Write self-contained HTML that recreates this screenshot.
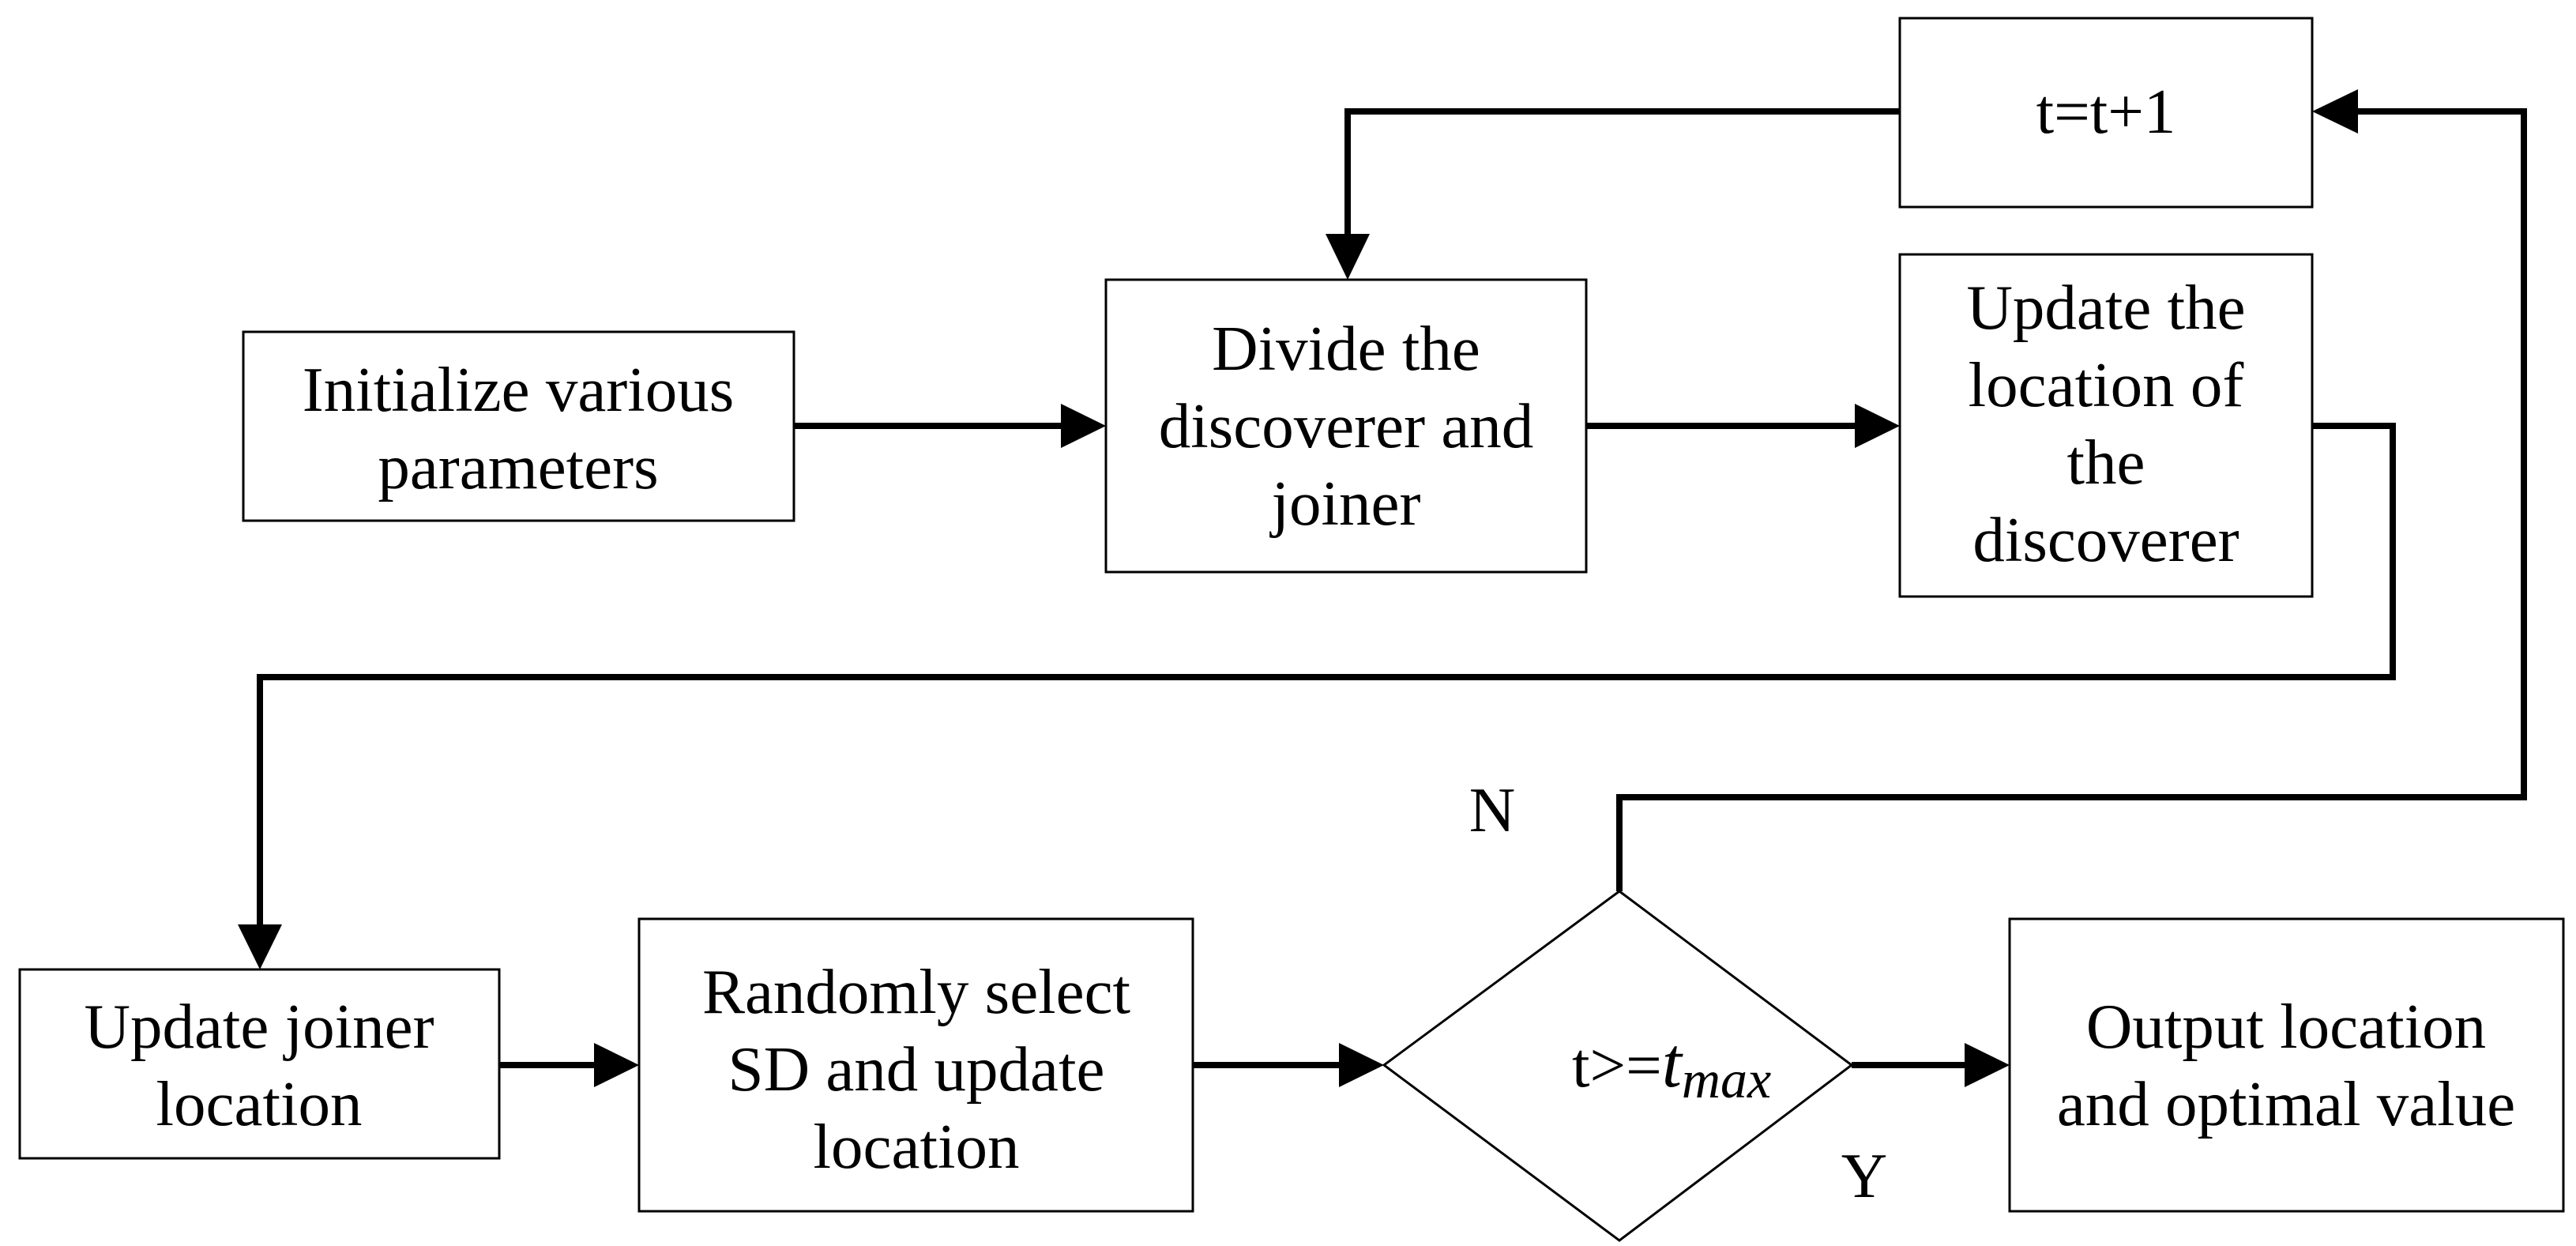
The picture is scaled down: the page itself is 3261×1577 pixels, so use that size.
<!DOCTYPE html>
<html><head><meta charset="utf-8"><style>
html,body{margin:0;padding:0;background:#fff;}
svg{display:block;}
text{font-family:"Liberation Serif",serif;font-size:81px;fill:#000;text-anchor:middle;}
</style></head><body>
<svg width="3261" height="1577" viewBox="0 0 3261 1577" xmlns="http://www.w3.org/2000/svg">
<g fill="none" stroke="#000" stroke-width="3">
<rect x="2405" y="23" width="522" height="239"/>
<rect x="1400" y="354" width="608" height="370"/>
<rect x="308" y="420" width="697" height="239"/>
<rect x="2405" y="322" width="522" height="433"/>
<rect x="25" y="1227" width="607" height="239"/>
<rect x="809" y="1163" width="701" height="370"/>
<rect x="2544" y="1163" width="701" height="370"/>
<polygon points="2050,1128 2344,1348 2050,1570 1752,1348"/>
</g>
<g fill="none" stroke="#000" stroke-width="8" stroke-linejoin="miter">
<polyline points="2405,141 1706,141 1706,300"/>
<line x1="1005" y1="539" x2="1345" y2="539"/>
<line x1="2008" y1="539" x2="2350" y2="539"/>
<polyline points="2927,539 3029,539 3029,857 329,857 329,1172"/>
<line x1="632" y1="1348" x2="755" y2="1348"/>
<line x1="1510" y1="1348" x2="1697" y2="1348"/>
<line x1="2344" y1="1348" x2="2490" y2="1348"/>
<polyline points="2050,1128 2050,1009 3195,1009 3195,141 2985,141"/>
</g>
<g fill="#000">
<polygon points="1678,296 1734,296 1706,354"/>
<polygon points="1343,511 1343,567 1400,539"/>
<polygon points="2348,511 2348,567 2405,539"/>
<polygon points="301,1170 357,1170 329,1227"/>
<polygon points="752,1320 752,1376 809,1348"/>
<polygon points="1695,1320 1695,1376 1752,1348"/>
<polygon points="2487,1320 2487,1376 2544,1348"/>
<polygon points="2985,113 2985,169 2927,141"/>
</g>
<text x="2666" y="168">t=t+1</text>
<text x="656" y="520">Initialize various</text>
<text x="656" y="618">parameters</text>
<text x="1704" y="468">Divide the</text>
<text x="1704" y="566">discoverer and</text>
<text x="1704" y="664">joiner</text>
<text x="2666" y="416">Update the</text>
<text x="2666" y="514">location of</text>
<text x="2666" y="612">the</text>
<text x="2666" y="710">discoverer</text>
<text x="328" y="1326">Update joiner</text>
<text x="328" y="1424">location</text>
<text x="1160" y="1282">Randomly select</text>
<text x="1160" y="1380">SD and update</text>
<text x="1160" y="1478">location</text>
<text x="2894" y="1326">Output location</text>
<text x="2894" y="1424">and optimal value</text>
<text x="1990" y="1375" style="text-anchor:start">t&gt;=<tspan font-style="italic" font-size="90">t</tspan><tspan font-style="italic" font-size="68" dy="14">max</tspan></text>
<text x="1889" y="1052">N</text>
<text x="2360" y="1515">Y</text>
</svg>
</body></html>
